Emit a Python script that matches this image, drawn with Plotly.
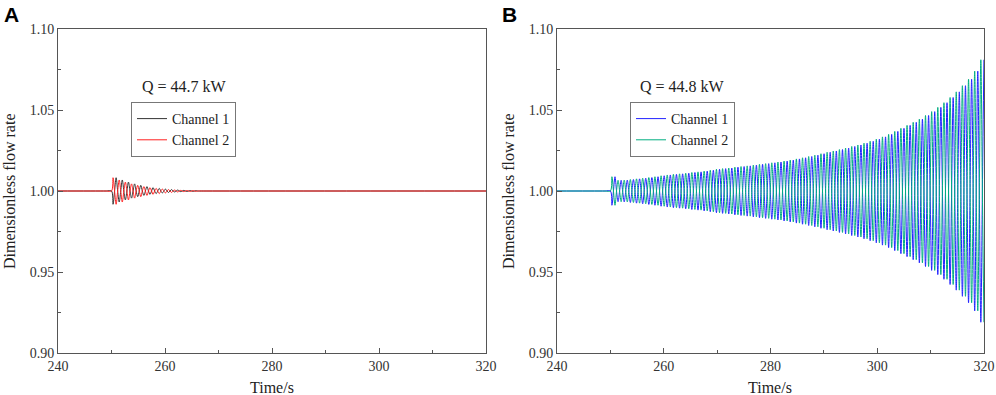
import plotly.graph_objects as go

# ---------------- data ----------------
t_begin = 240.0
t_end = 320.0
t_perturb = 250.0          # start of the oscillation
period_s = 1.152           # oscillation period

# Panel A (Q = 44.7 kW): decaying oscillation, amplitude per cycle
amp_A = [0.0082, 0.0068, 0.0055, 0.0044, 0.0035, 0.0027, 0.0021,
         0.0016, 0.0012, 0.0009, 0.0006, 0.0004, 0.0003, 0.0002]

# Panel B (Q = 44.8 kW): growing oscillation, amplitude per cycle
amp_B = [0.0088, 0.0066, 0.0067, 0.0071, 0.0075, 0.0079, 0.0083, 0.0088,
         0.0094, 0.0099, 0.0103, 0.0106, 0.0110, 0.0114, 0.0118, 0.0123,
         0.0128, 0.0134, 0.0138, 0.0142, 0.0147, 0.0151, 0.0155, 0.0160,
         0.0165, 0.0169, 0.0174, 0.0179, 0.0185, 0.0191, 0.0198, 0.0205,
         0.0213, 0.0221, 0.0230, 0.0239, 0.0247, 0.0256, 0.0265, 0.0275,
         0.0284, 0.0295, 0.0307, 0.0320, 0.0334, 0.0350, 0.0368, 0.0387,
         0.0405, 0.0424, 0.0444, 0.0466, 0.0490, 0.0516, 0.0545, 0.0577,
         0.0612, 0.0650, 0.0690, 0.0740, 0.0810]

x_ticks = [240, 260, 280, 300, 320]
y_ticks = [0.90, 0.95, 1.00, 1.05, 1.10]
y_tick_text = ["0.90", "0.95", "1.00", "1.05", "1.10"]
base_value = 1.0
q_labels = ["Q = 44.7 kW", "Q = 44.8 kW"]
series_names = ["Channel 1", "Channel 2"]
x_title = "Time/s"
y_title = "Dimensionless flow rate"


def build_series(amps, sign, settle):
    """Crossings of the mean value and the extremes (one max and one min per cycle)."""
    xs = [t_begin, t_perturb - 1.0, t_perturb]
    ys = [base_value, base_value, base_value]
    n_half = 2 * len(amps)
    for j in range(n_half):
        t = t_perturb + period_s / 4 + j * period_s / 2
        if t > t_end + 1e-9:
            break
        if j > 0:
            xs.append(t - period_s / 4)
            ys.append(base_value)
        a = amps[j // 2]
        s = 1 if j % 2 == 0 else -1
        xs.append(t)
        ys.append(base_value + sign * s * a)
    if settle:
        xs.append(xs[-1] + period_s / 4)
        ys.append(base_value)
        xs.append(xs[-1] + 1.0)
        ys.append(base_value)
        xs.append(t_end)
        ys.append(base_value)
    return xs, ys


a1x, a1y = build_series(amp_A, -1, True)
a2x, a2y = build_series(amp_A, +1, True)
b1x, b1y = build_series(amp_B, -1, False)
b2x, b2y = build_series(amp_B, +1, False)

W, H = 996, 395
serif = "Liberation Serif, Times New Roman, serif"

fig = go.Figure()
fig.add_trace(go.Scatter(x=a1x, y=a1y, mode="lines", name=series_names[0],
                         line=dict(color="#333333", width=1, shape="spline"),
                         xaxis="x", yaxis="y", legend="legend"))
fig.add_trace(go.Scatter(x=a2x, y=a2y, mode="lines", name=series_names[1],
                         line=dict(color="#FF2020", width=1, shape="spline"),
                         xaxis="x", yaxis="y", legend="legend"))
fig.add_trace(go.Scatter(x=b1x, y=b1y, mode="lines", name=series_names[0],
                         line=dict(color="#2222FF", width=1, shape="spline"),
                         xaxis="x2", yaxis="y2", legend="legend2"))
fig.add_trace(go.Scatter(x=b2x, y=b2y, mode="lines", name=series_names[1],
                         line=dict(color="#00AE80", width=1, shape="spline"),
                         xaxis="x2", yaxis="y2", legend="legend2"))

ybot = (H - 353) / H
ytop = (H - 29) / H

axis_common = dict(
    showline=True, linecolor="#555555", linewidth=1, mirror=True,
    ticks="inside", ticklen=5, tickcolor="#555555", tickwidth=1,
    showgrid=False, zeroline=False, automargin=False,
    tickfont=dict(family=serif, size=14, color="#333333"),
)

x_common = dict(axis_common, range=[t_begin, t_end], tickvals=x_ticks,
                minor=dict(dtick=10, ticks="inside", ticklen=3, tickcolor="#555555"))
y_common = dict(axis_common, range=[0.90, 1.10], tickvals=y_ticks, ticktext=y_tick_text,
                minor=dict(dtick=0.025, ticks="inside", ticklen=3, tickcolor="#555555"))

legend_common = dict(
    bgcolor="rgba(255,255,255,1)", bordercolor="#777777", borderwidth=1,
    font=dict(family=serif, size=14, color="#222222"),
    xanchor="left", yanchor="top", tracegroupgap=0, itemwidth=30,
)

title_font = dict(family=serif, size=16, color="#222222")
annotations = []
for letter, lx in (("A", 2), ("B", 500)):
    annotations.append(dict(
        text="<b>" + letter + "</b>", x=lx / W, y=1 - 1 / H, xref="paper", yref="paper",
        xanchor="left", yanchor="top", showarrow=False,
        font=dict(family="Liberation Sans, Arial, sans-serif", size=21, color="black")))
for q, qx in zip(q_labels, (184, 682)):
    annotations.append(dict(
        text=q, x=qx / W, y=(H - 87) / H, xref="paper", yref="paper",
        xanchor="center", yanchor="middle", showarrow=False,
        font=dict(family=serif, size=16, color="#222222")))
for cx, yx in ((272, 9), (770, 508)):
    annotations.append(dict(
        text=x_title, x=cx / W, y=(H - 387) / H, xref="paper", yref="paper",
        xanchor="center", yanchor="middle", showarrow=False, font=title_font))
    annotations.append(dict(
        text=y_title, x=yx / W, y=(H - 191) / H, xref="paper", yref="paper",
        xanchor="center", yanchor="middle", showarrow=False, textangle=-90,
        font=title_font))

fig.update_layout(
    width=W, height=H,
    margin=dict(l=0, r=0, t=0, b=0),
    paper_bgcolor="white", plot_bgcolor="white",
    xaxis=dict(x_common, domain=[58 / W, 486 / W], anchor="y"),
    yaxis=dict(y_common, domain=[ybot, ytop], anchor="x"),
    xaxis2=dict(x_common, domain=[557 / W, 984 / W], anchor="y2"),
    yaxis2=dict(y_common, domain=[ybot, ytop], anchor="x2"),
    legend=dict(legend_common, x=131 / W, y=(H - 102) / H),
    legend2=dict(legend_common, x=630 / W, y=(H - 102) / H),
    showlegend=True,
    annotations=annotations,
)

fig.write_html("out.html", config={"displayModeBar": False},
               post_script="document.body.style.margin='0';document.body.style.overflow='hidden';")
